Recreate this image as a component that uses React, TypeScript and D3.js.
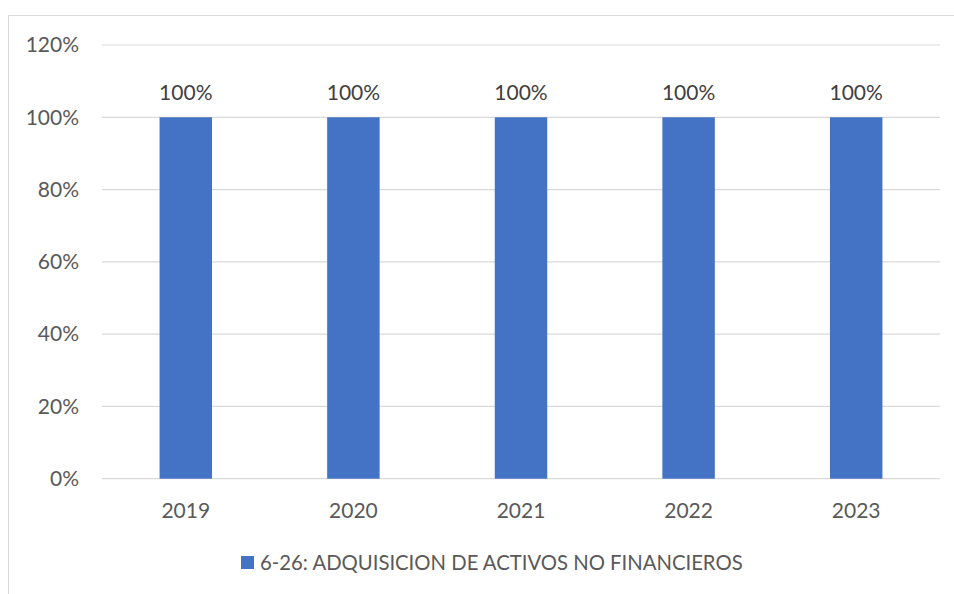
import React from "react";
import * as d3 from "d3";

const categories = ["2019", "2020", "2021", "2022", "2023"];
const values = [1, 1, 1, 1, 1];
const yTicks = [0, 0.2, 0.4, 0.6, 0.8, 1.0, 1.2];
const seriesName = "6-26: ADQUISICION DE ACTIVOS NO FINANCIEROS";

const W = 954;
const H = 594;
const FONT = "Lato, 'Open Sans', sans-serif";
const TEXT = "#595959";

export default function App() {
  const left = 102, right = 940, top = 45, bottom = 478.7;
  const x = d3.scaleBand<string>().domain(categories).range([left, right]).paddingInner(0.687).paddingOuter(0.3435);
  const y = d3.scaleLinear().domain([0, 1.2]).range([bottom, top]);
  const pct = d3.format(".0%");
  return (
    <svg width={W} height={H} style={{ position: "absolute", left: 0, top: 0 }}>
      <rect x={8.5} y={15.5} width={W + 10} height={H + 10} fill="#fff" stroke="#d9d9d9" strokeWidth={1} />
      {yTicks.map((t) => (
        <g key={t}>
          <line x1={left} x2={right} y1={y(t)} y2={y(t)} stroke="#d9d9d9" strokeWidth={1.2} />
          <text x={79} y={y(t)} dy="0.35em" textAnchor="end" fontFamily={FONT} fontSize={21} fill={TEXT}>
            {pct(t)}
          </text>
        </g>
      ))}
      {categories.map((c, i) => (
        <g key={c}>
          <rect x={x(c)} y={y(values[i])} width={x.bandwidth()} height={y(0) - y(values[i])} fill="#4472C4" />
          <text x={x(c)! + x.bandwidth() / 2} y={y(values[i]) - 24.5} dy="0.35em" textAnchor="middle" fontFamily={FONT} fontSize={21} fill="#404040">
            {pct(values[i])}
          </text>
          <text x={x(c)! + x.bandwidth() / 2} y={510.5} dy="0.35em" textAnchor="middle" fontFamily={FONT} fontSize={21} fill={TEXT}>
            {c}
          </text>
        </g>
      ))}
      <rect x={241} y={556} width={13} height={13} fill="#4472C4" />
      <text x={260} y={562.5} dy="0.35em" fontFamily={FONT} fontSize={20.3} fill={TEXT}>
        {seriesName}
      </text>
    </svg>
  );
}
